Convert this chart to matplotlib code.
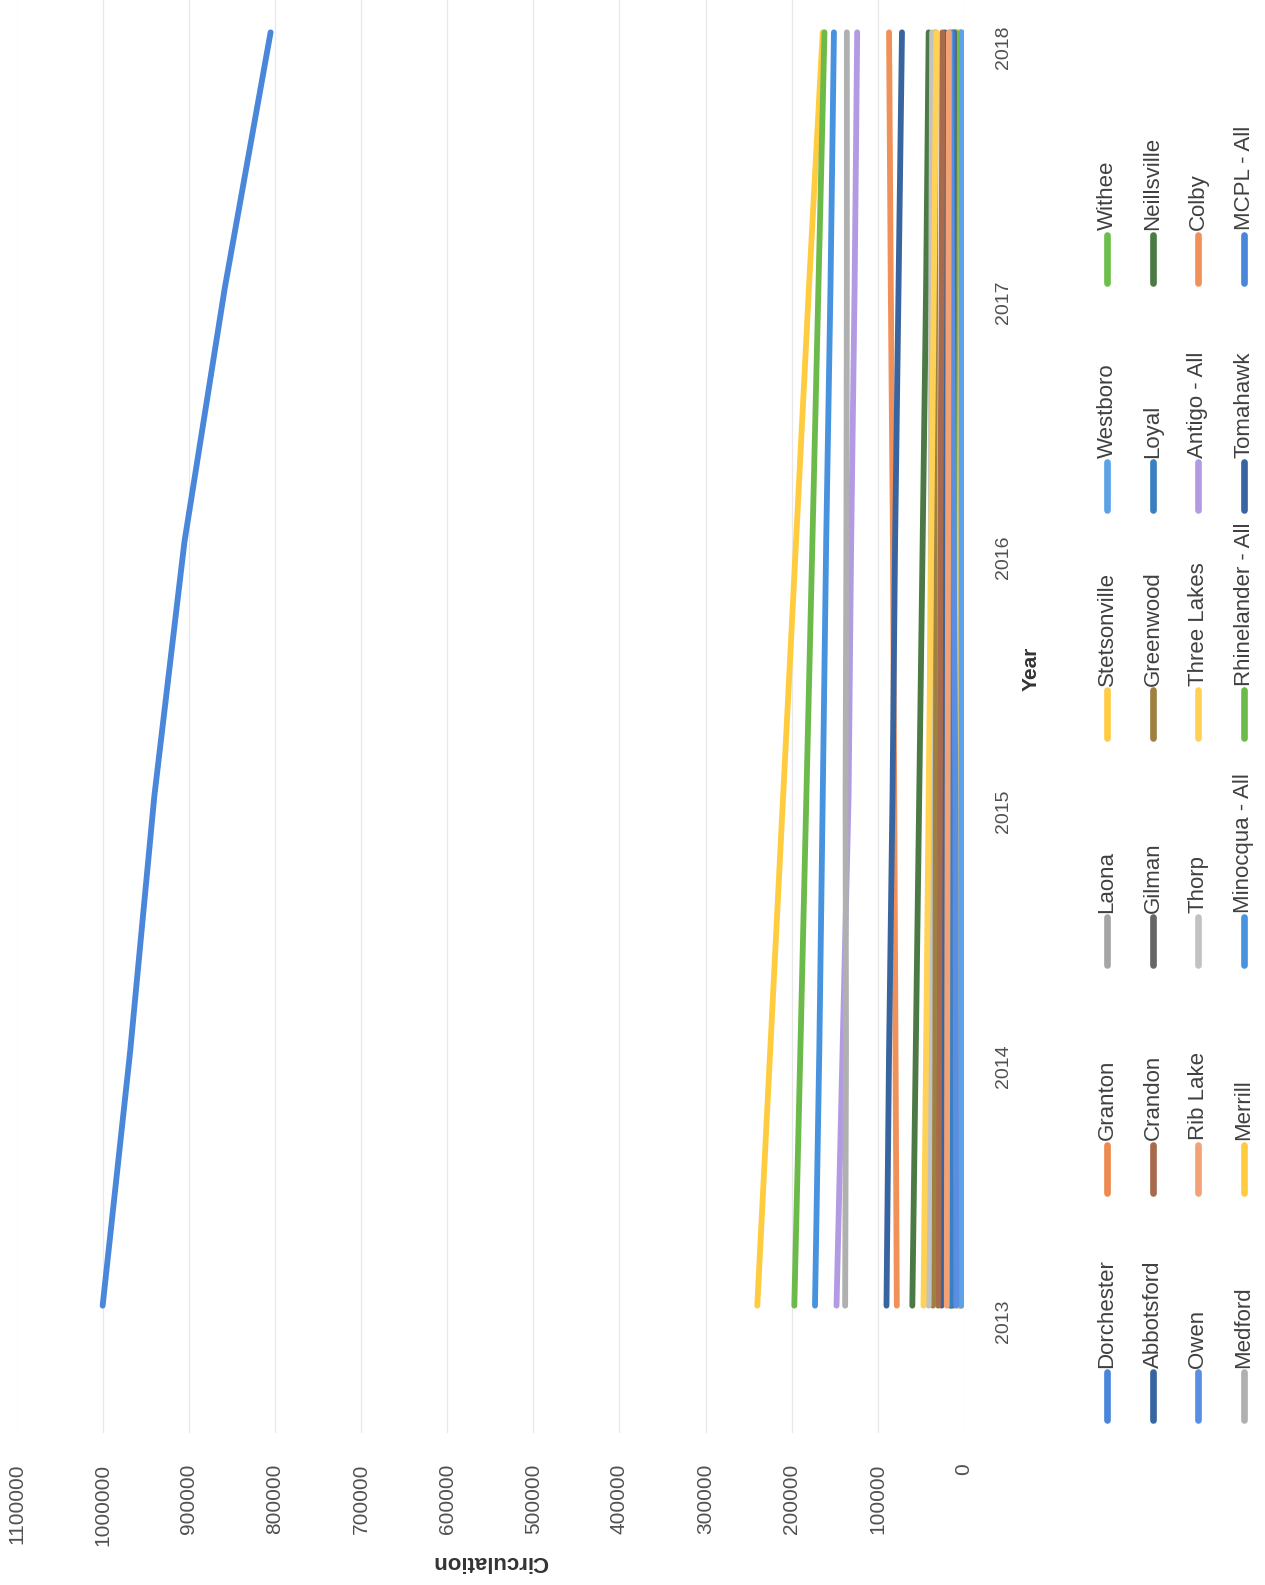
import matplotlib
matplotlib.use('Agg')
import matplotlib.pyplot as plt
from matplotlib.lines import Line2D

# circulation by library, 2013-2018
years = [2013, 2014, 2015, 2016, 2017, 2018]

dorchester = [5000, 5200, 5000, 4800, 4700, 4500]
granton = [4000, 4200, 4100, 3900, 3800, 3700]
laona = [12000, 11500, 11800, 11000, 10500, 10000]
stetsonville = [6000, 5800, 5900, 5600, 5500, 5300]
westboro = [3000, 3100, 2900, 2800, 2900, 2700]
withee = [15000, 13500, 12500, 11500, 10000, 9000]
abbotsford = [26000, 25000, 24000, 23500, 22500, 22000]
crandon = [30000, 29000, 28000, 27500, 26000, 25000]
gilman = [14000, 13500, 13000, 12500, 12000, 11500]
greenwood = [36000, 35000, 34000, 34500, 33500, 33000]
loyal = [16000, 15500, 15000, 14500, 14000, 13500]
neillsville = [60000, 56000, 52000, 48000, 44000, 41000]
owen = [9000, 9500, 10000, 12000, 14000, 16000]
rib_lake = [20000, 19500, 19000, 18500, 18000, 17500]
thorp = [41000, 40000, 39500, 38500, 38000, 37000]
three_lakes = [47000, 44000, 41000, 38000, 35000, 32000]
antigo = [148000, 141000, 134000, 131000, 127000, 124000]
colby = [78000, 79500, 81000, 82500, 85000, 87000]
medford = [138000, 137000, 137500, 136500, 136000, 136000]
merrill = [240000, 225000, 210000, 195000, 180000, 164000]
minocqua = [173000, 168000, 164000, 160000, 155000, 151000]
rhinelander = [197000, 190000, 183000, 176000, 169000, 162000]
tomahawk = [90000, 87000, 83000, 80000, 76000, 72000]
mcpl = [1000000, 968000, 940000, 905000, 858000, 805000]

names = ["Dorchester", "Granton", "Laona", "Stetsonville", "Westboro", "Withee",
         "Abbotsford", "Crandon", "Gilman", "Greenwood", "Loyal", "Neillsville",
         "Owen", "Rib Lake", "Thorp", "Three Lakes", "Antigo - All", "Colby",
         "Medford", "Merrill", "Minocqua - All", "Rhinelander - All", "Tomahawk", "MCPL - All"]
series = [dorchester, granton, laona, stetsonville, westboro, withee,
          abbotsford, crandon, gilman, greenwood, loyal, neillsville,
          owen, rib_lake, thorp, three_lakes, antigo, colby,
          medford, merrill, minocqua, rhinelander, tomahawk, mcpl]
colors = ["#4A86DA", "#EE8A50", "#A5A5A5", "#FFCB45", "#5BA3E6", "#6DBF4B",
          "#36659F", "#A86A4C", "#666666", "#9E8041", "#3A7FBF", "#4C7A44",
          "#5A8EE2", "#F2A274", "#C2C2C2", "#FFD255", "#B29BE3", "#F0915A",
          "#B0B0B0", "#FFCC40", "#4893E0", "#6CBB4A", "#38659F", "#4A86DA"]

circ_ticks = list(range(0, 1100001, 100000))

FONT = ["Liberation Sans", "DejaVu Sans"]
W, H = 1265, 1585

fig = plt.figure(figsize=(W / 100, H / 100), dpi=100)
# the page is scanned sideways: circulation runs right-to-left, years bottom-to-top
ax = fig.add_axes([16.5 / W, 1 - 1433 / H, (964 - 16.5) / W, (1433 + 95) / H])

for vals, col in zip(series, colors):
    ax.plot(vals, years, color=col, lw=4.2, solid_capstyle="round")

ax.set_xlim(1100000, 0)
ax.set_ylim(2012.5, 2018.5)
ax.set_xticks(circ_ticks)
ax.set_xticklabels([str(v) for v in circ_ticks], family=FONT, fontsize=15, color="#505050")
ax.tick_params(axis="x", length=0, pad=22, labelrotation=90)
ax.yaxis.tick_right()
ax.set_yticks(years)
ax.set_yticklabels([str(y) for y in years], family=FONT, fontsize=14, color="#505050")
ax.tick_params(axis="y", length=0, pad=22, labelrotation=90)
ax.xaxis.grid(True, color="#e8e8e8", lw=0.9)
ax.set_axisbelow(True)
for s in ax.spines.values():
    s.set_visible(False)

fig.text(490 / W, 1 - 1562 / H, "Circulation", rotation=180, ha="center", va="center",
         family=FONT, fontsize=16, fontweight="bold", color="#333333")
fig.text(1031 / W, 1 - 669 / H, "Year", rotation=90, ha="center", va="center",
         family=FONT, fontsize=15, fontweight="bold", color="#333333")

# legend, drawn by hand so it reads sideways like the scan
col_x = [1107, 1153, 1198, 1244]
for k, (name, col) in enumerate(zip(names, colors)):
    row, pos = divmod(k, 6)
    x = col_x[row] / W
    y0 = 1420 - pos * 227.5
    fig.add_artist(Line2D([x, x], [1 - y0 / H, 1 - (y0 - 48) / H], transform=fig.transFigure,
                          color=col, lw=4.8, solid_capstyle="round"))
    fig.text(x, 1 - (y0 - 52) / H, name, rotation=90, ha="center", va="bottom",
             family=FONT, fontsize=16, color="#404040")

fig.savefig("out.png", dpi=100)
